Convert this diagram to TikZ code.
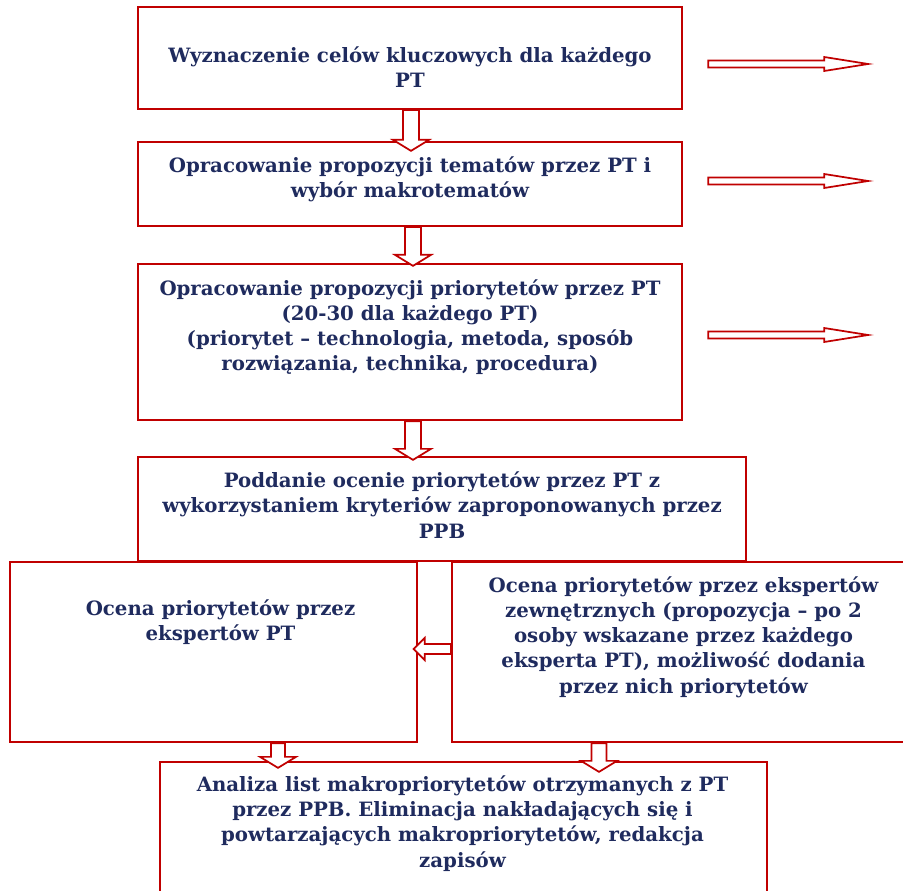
\documentclass[tikz,border=0pt]{standalone}
\usepackage{fontspec}
\setmainfont{DejaVu Serif}
\usetikzlibrary{calc}

\definecolor{boxred}{HTML}{C00000}
\definecolor{textnavy}{HTML}{1F2B5E}

\tikzset{
  stagebox/.style={draw=boxred, line width=1.7pt, rectangle, inner sep=0pt},
  stagetext/.style={text=textnavy, align=center, font=\bfseries\fontsize{14.8}{18.9}\selectfont},
  blockarrow/.style={draw=boxred, fill=white, line width=1.3pt, line join=miter}
}

% strzalka blokowa w dol: #1 poczatek, #2 grot, #3 pol szerokosci trzonu
\newcommand{\blockdown}[3]{%
  \draw[blockarrow] ($(#1)+(-#3,0)$) -- ($(#2)+(-#3,-11)$) -- ($(#2)+(-18,-11)$) -- (#2)
    -- ($(#2)+(18,-11)$) -- ($(#2)+(#3,-11)$) -- ($(#1)+(#3,0)$) -- cycle;}
% strzalka blokowa w prawo
\newcommand{\blockright}[2]{%
  \draw[blockarrow] ($(#1)+(0,-3.5)$) -- ($(#2)+(-44,-3.5)$) -- ($(#2)+(-44,-7)$) -- (#2)
    -- ($(#2)+(-44,7)$) -- ($(#2)+(-44,3.5)$) -- ($(#1)+(0,3.5)$) -- cycle;}
% strzalka blokowa w lewo
\newcommand{\blockleft}[2]{%
  \draw[blockarrow] ($(#1)+(0,-5)$) -- ($(#2)+(11,-5)$) -- ($(#2)+(11,-11)$) -- (#2)
    -- ($(#2)+(11,11)$) -- ($(#2)+(11,5)$) -- ($(#1)+(0,5)$) -- cycle;}

\begin{document}
\begin{tikzpicture}[x=0.75pt, y=-0.75pt]
  \useasboundingbox (0,0) rectangle (903,891);
  \clip (0,0) rectangle (903,891);

  % ================= ramki etapow =================
  \node[stagebox, minimum width=544*0.75pt, minimum height=102*0.75pt] (b1) at (410,58) {};
  \node[stagebox, minimum width=544*0.75pt, minimum height=84*0.75pt] (b2) at (410,184) {};
  \node[stagebox, minimum width=544*0.75pt, minimum height=156*0.75pt] (b3) at (410,342) {};
  \node[stagebox, minimum width=608*0.75pt, minimum height=104*0.75pt] (b4) at (442,509) {};
  \node[stagebox, minimum width=407*0.75pt, minimum height=180*0.75pt] (b5) at (213.5,652) {};
  \node[stagebox, minimum width=463*0.75pt, minimum height=180*0.75pt] (b6) at (683.5,652) {};
  \node[stagebox, minimum width=607*0.75pt, minimum height=143*0.75pt] (b7) at (463.5,833.5) {};

  % ================= teksty =================
  \node[stagetext] (t1) at ($(b1)+(0,9)$) {Wyznaczenie celów kluczowych dla każdego\\PT};
  \node[stagetext] (t2) at ($(b2)+(0,-5)$) {Opracowanie propozycji tematów przez PT i\\wybór makrotematów};
  \node[stagetext] (t3) at ($(b3)+(0,-15)$) {Opracowanie propozycji priorytetów przez PT\\(20-30 dla każdego PT)\\(priorytet – technologia, metoda, sposób\\rozwiązania, technika, procedura)};
  \node[stagetext] (t4) at ($(b4)+(0,-4)$) {Poddanie ocenie priorytetów przez PT z\\wykorzystaniem kryteriów zaproponowanych przez\\PPB};
  \node[stagetext] (t5) at ($(b5)+(7,-30)$) {Ocena priorytetów przez\\ekspertów PT};
  \node[stagetext] (t6) at ($(b6)+(0,-15)$) {Ocena priorytetów przez ekspertów\\zewnętrznych (propozycja – po 2\\osoby wskazane przez każdego\\eksperta PT), możliwość dodania\\przez nich priorytetów};
  \node[stagetext] (t7) at ($(b7)+(-1,-10)$) {Analiza list makropriorytetów otrzymanych z PT\\przez PPB. Eliminacja nakładających się i\\powtarzających makropriorytetów, redakcja\\zapisów};

  % ================= strzalki w dol =================
  \blockdown{$(b1.south)+(1,0)$}{$(b2.north)+(1,10)$}{8}
  \blockdown{$(b2.south)+(3,0)$}{$(b3.north)+(3,3)$}{8}
  \blockdown{$(b3.south)+(3,0)$}{$(b4.north)+(-29,4)$}{8}
  \blockdown{$(b5.south)+(64.5,0)$}{$(b7.north)+(-185.5,7)$}{7}
  \blockdown{$(b6.south)+(-84.5,0)$}{$(b7.north)+(135.5,11)$}{7.5}

  % ================= strzalki w prawo =================
  \coordinate (r1a) at ($(b1.east)+(25,6)$);
  \coordinate (r1b) at ($(b1.east)+(185,6)$);
  \coordinate (r2a) at ($(b2.east)+(25,-3)$);
  \coordinate (r2b) at ($(b2.east)+(185,-3)$);
  \coordinate (r3a) at ($(b3.east)+(25,-7)$);
  \coordinate (r3b) at ($(b3.east)+(185,-7)$);
  \blockright{r1a}{r1b}
  \blockright{r2a}{r2b}
  \blockright{r3a}{r3b}

  % ================= strzalka w lewo =================
  \blockleft{$(b6.west)+(0,-3)$}{$(b5.east)+(-4.5,-3)$}

\end{tikzpicture}
\end{document}
